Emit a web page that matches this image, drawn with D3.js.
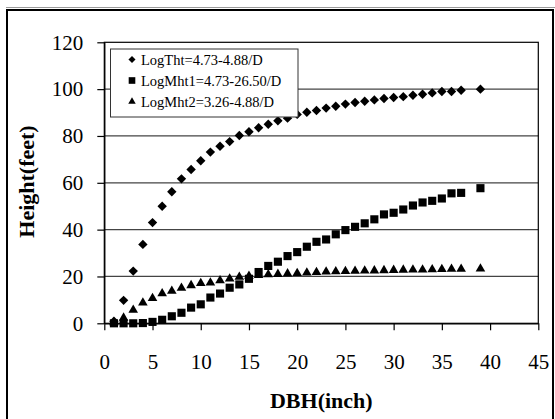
<!DOCTYPE html>
<html>
<head>
<meta charset="utf-8">
<script src="https://cdn.jsdelivr.net/npm/d3@7"></script>
<style>
  body { margin: 0; background: #fff; }
  svg { display: block; font-family: "Liberation Serif", "Times New Roman", serif; }
</style>
</head>
<body>
<div id="graph"></div>
<script>
const dbh = [1, 2, 3, 4, 5, 6, 7, 8, 9, 10, 11, 12, 13, 14, 15, 16, 17, 18, 19, 20,
  21, 22, 23, 24, 25, 26, 27, 28, 29, 30, 31, 32, 33, 34, 35, 36, 37, 39];

const logTht = [0.9, 9.8, 22.3, 33.7, 43, 50, 56.2, 61.7, 65.7, 69.4, 73.1, 75.6, 77.6, 80.2,
  81.8, 83.5, 85, 86.5, 87.6, 89.2, 90.1, 90.9, 91.9, 92.7, 93.6, 94.3, 94.8, 95.4,
  96, 96.4, 96.8, 97.4, 97.8, 98.4, 99, 99, 99.5, 100];

const logMht1 = [0, 0, 0, 0.1, 0.6, 1.5, 3, 4.5, 6.7, 8.1, 11, 12.7, 15.2, 16.6, 19, 21.9,
  24.5, 26.3, 28.7, 30.4, 32.7, 34.8, 35.8, 38, 39.8, 41.2, 42.7, 44.4, 46.5, 47.2,
  48.6, 50.3, 51.6, 52.3, 53.3, 55.5, 55.7, 57.7];

const logMht2 = [0.3, 2.3, 5.7, 8.8, 10.7, 12.7, 13.8, 15.1, 16.2, 17.1, 17.3, 18.3, 19, 19.8,
  20.2, 20.5, 20.8, 21, 21.2, 21.4, 21.6, 21.8, 22, 22.1, 22.2, 22.3, 22.4, 22.5,
  22.6, 22.7, 22.8, 22.9, 22.9, 23, 23.1, 23.2, 23.2, 23.3];

const seriesNames = ["LogTht=4.73-4.88/D", "LogMht1=4.73-26.50/D", "LogMht2=3.26-4.88/D"];
const xTicks = [0, 5, 10, 15, 20, 25, 30, 35, 40, 45];
const yTicks = [0, 20, 40, 60, 80, 100, 120];

const dimension = {
  width: 434,
  height: 281,
  margin: { top: 42.3, left: 104.3 }
};

const shapes = [
  { type: d3.symbolSquare, size: 44, rotate: 45, legendSize: 25 },
  { type: d3.symbolSquare, size: 66, rotate: 0, legendSize: 44 },
  { type: d3.symbolTriangle, size: 40, rotate: 0, legendSize: 24 }
];

const serif = "Liberation Serif, Times New Roman, serif";

function axisX(dimension) {
  return d3.scaleLinear().domain([0, 45]).range([0, dimension.width]);
}

function axisY(dimension) {
  return d3.scaleLinear().domain([0, 120]).range([dimension.height, 0]);
}

function marker(shape, size) {
  return d3.symbol().type(shape.type).size(size)();
}

function drawFrame(svg) {
  svg.append("line")
    .attr("x1", 6).attr("x2", 555).attr("y1", 7.5).attr("y2", 7.5)
    .attr("stroke", "#999").attr("stroke-width", 1);
  svg.append("rect")
    .attr("x", 7).attr("y", 10).attr("width", 546).attr("height", 430)
    .attr("fill", "none").attr("stroke", "#000").attr("stroke-width", 2);
}

function drawGrid(context, axis, dimension) {
  context.append("g")
    .selectAll("line")
    .data(yTicks.filter(d => d > 0 && d < 120))
    .join("line")
    .attr("x1", 0).attr("x2", dimension.width)
    .attr("y1", d => axis.y(d)).attr("y2", d => axis.y(d))
    .attr("stroke", "#444").attr("stroke-width", 1.3);

  context.append("rect")
    .attr("width", dimension.width).attr("height", dimension.height)
    .attr("fill", "none").attr("stroke", "#000").attr("stroke-width", 1.2);
}

function drawAxis(context, axis, dimension) {
  const {height, width} = dimension;

  context.append("g")
    .attr("transform", `translate(0,${height})`)
    .call(d3.axisBottom(axis.x).tickValues(xTicks).tickSize(7).tickPadding(23.5).tickSizeOuter(0))
    .attr("font-family", serif)
    .attr("font-size", 21);

  context.append("g")
    .call(d3.axisLeft(axis.y).tickValues(yTicks).tickSize(7).tickPadding(14).tickSizeOuter(0))
    .attr("font-family", serif)
    .attr("font-size", 21);

  context.selectAll(".domain").attr("stroke", "#000").attr("stroke-width", 1.3);
  context.selectAll(".tick line").attr("stroke", "#000").attr("stroke-width", 1.2);

  context.append("text")
    .attr("x", width / 2)
    .attr("y", 408.3 - dimension.margin.top)
    .style("text-anchor", "middle")
    .style("font-size", "22px")
    .style("font-weight", "bold")
    .text("DBH(inch)");

  context.append("text")
    .attr("transform", `translate(${33.5 - dimension.margin.left},${181.5 - dimension.margin.top}) rotate(-90)`)
    .style("text-anchor", "middle")
    .style("font-size", "22px")
    .style("font-weight", "bold")
    .text("Height(feet)");
}

function drawSeries(context, values, shape, axis) {
  context.append("g")
    .selectAll("path")
    .data(values.map((v, i) => ({ x: dbh[i], y: v })))
    .join("path")
    .attr("d", marker(shape, shape.size))
    .attr("transform", d => `translate(${axis.x(d.x)},${axis.y(d.y)}) rotate(${shape.rotate})`)
    .attr("fill", "#000");
}

function drawLegend(svg) {
  const legend = svg.append("g");
  legend.append("rect")
    .attr("x", 110.5).attr("y", 49).attr("width", 187.5).attr("height", 68)
    .attr("fill", "#fff").attr("stroke", "#333").attr("stroke-width", 1);

  const rows = [59.5, 80.5, 101.5];
  seriesNames.forEach((name, i) => {
    const shape = shapes[i];
    legend.append("path")
      .attr("d", marker(shape, shape.legendSize))
      .attr("transform", `translate(132,${rows[i]}) rotate(${shape.rotate})`)
      .attr("fill", "#000");
    legend.append("text")
      .attr("x", 141)
      .attr("y", rows[i])
      .attr("dy", "0.35em")
      .style("font-size", "14.5px")
      .text(name);
  });
}

const svg = d3.select("#graph").append("svg")
  .attr("width", 555)
  .attr("height", 419);

drawFrame(svg);

const context = svg.append("g")
  .attr("transform", `translate(${dimension.margin.left}, ${dimension.margin.top})`);

const axis = {
  x: axisX(dimension),
  y: axisY(dimension)
};

drawGrid(context, axis, dimension);
drawAxis(context, axis, dimension);
drawSeries(context, logTht, shapes[0], axis);
drawSeries(context, logMht1, shapes[1], axis);
drawSeries(context, logMht2, shapes[2], axis);
drawLegend(svg);
</script>
</body>
</html>
